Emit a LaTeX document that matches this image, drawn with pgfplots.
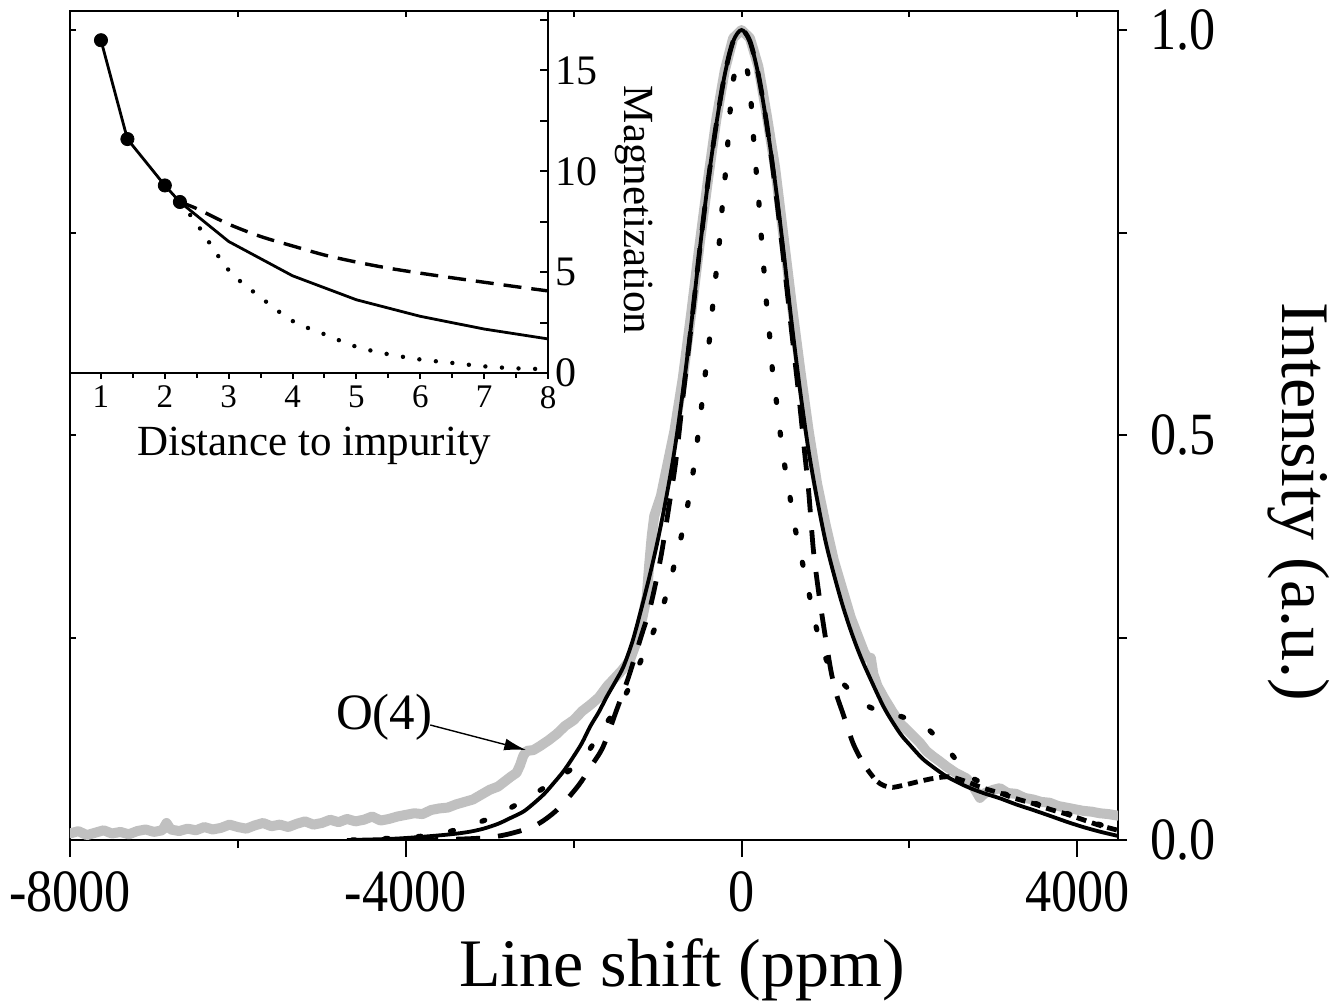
\documentclass[border=0pt]{standalone}
\usepackage{pgfplots}
\pgfplotsset{compat=1.18}
\usepackage{fontspec}
\setmainfont{Liberation Serif}
\newfontfamily\tickfont[FakeStretch=0.87]{Liberation Serif}
\usetikzlibrary{arrows.meta}
\definecolor{lg}{RGB}{192,192,192}
\pgfplotsset{
  base/.style={scale only axis, /pgf/number format/assume math mode=true,
    axis line style={line width=1.2pt}, tick style={line width=1pt, black}},
  mainbox/.style={base, at={(0,0)}, anchor=south west, width=524pt, height=414.5pt,
    xmin=-8000, xmax=4485, ymin=0, ymax=1.0235},
  insetbox/.style={base, at={(0,233.5pt)}, anchor=south west, width=239pt, height=181pt,
    xmin=0.515, xmax=8, ymin=0, ymax=17.95},
}
\begin{document}
\begin{tikzpicture}
\path[use as bounding box] (-35pt,-80.5pt) rectangle (634pt,420pt);

% ---------------- main axis with data ----------------
\begin{axis}[mainbox,
  xtick={-8000,-4000,0,4000}, minor xtick={-6000,-2000,2000}, xtick pos=left,
  ytick=\empty,
  tick align=outside, major tick length=8.5pt, minor tick length=4pt,
  xticklabel style={font=\tickfont\fontsize{30}{34}\selectfont, yshift=-4pt, /pgf/number format/1000 sep={}},
  xlabel={Line shift (ppm)},
  every axis x label/.style={at={(axis description cs:0.584,-0.156)}, anchor=center, font=\fontsize{34}{40}\selectfont},
]
% experimental data (grey)
\addplot[lg, line width=5pt, line join=round, line cap=round] coordinates {
(-8000,0.008) (-7900,0.011) (-7800,0.006) (-7700,0.009) (-7600,0.012) (-7500,0.008)
(-7400,0.010) (-7300,0.007) (-7200,0.011) (-7100,0.013) (-7000,0.010) (-6900,0.012)
(-6850,0.021) (-6800,0.013) (-6700,0.011) (-6600,0.014) (-6500,0.012) (-6400,0.016)
(-6300,0.013) (-6200,0.015) (-6100,0.019) (-6000,0.016) (-5900,0.014) (-5800,0.018)
(-5700,0.021) (-5600,0.017) (-5500,0.019) (-5400,0.016) (-5300,0.020) (-5200,0.023)
(-5100,0.019) (-5000,0.021) (-4900,0.025) (-4800,0.022) (-4700,0.026) (-4600,0.023)
(-4500,0.025) (-4400,0.029) (-4300,0.024) (-4200,0.026) (-4100,0.029) (-4000,0.031)
(-3900,0.033) (-3800,0.032) (-3700,0.037) (-3600,0.039) (-3500,0.040) (-3400,0.044)
(-3300,0.047) (-3200,0.050) (-3100,0.056) (-3000,0.062) (-2900,0.066) (-2800,0.074)
(-2750,0.078) (-2680,0.083) (-2640,0.092) (-2600,0.104) (-2560,0.110) (-2480,0.111)
(-2400,0.116) (-2300,0.123) (-2200,0.131) (-2100,0.141) (-2000,0.148) (-1900,0.159)
(-1800,0.167) (-1700,0.176) (-1600,0.190) (-1500,0.201) (-1420,0.210) (-1330,0.222)
(-1250,0.245) (-1180,0.275) (-1130,0.300) (-1100,0.340) (-1070,0.375) (-1040,0.400)
(-960,0.425) (-880,0.465) (-800,0.505) (-700,0.570) (-600,0.650) (-500,0.735)
(-400,0.815) (-300,0.890) (-200,0.950) (-100,0.990) (0,1.000) (100,0.990)
(200,0.955) (300,0.895) (400,0.830) (500,0.745) (600,0.660) (700,0.580)
(800,0.505) (900,0.440) (1000,0.390) (1100,0.345) (1200,0.310) (1300,0.275)
(1400,0.248) (1460,0.232) (1500,0.225) (1540,0.225) (1570,0.205) (1620,0.190)
(1700,0.175) (1800,0.158) (1900,0.143) (2000,0.133) (2125,0.120) (2200,0.110)
(2283,0.103) (2350,0.098) (2450,0.090) (2550,0.083) (2680,0.076) (2760,0.066)
(2840,0.052) (2900,0.058) (3000,0.062) (3077,0.064) (3170,0.058) (3270,0.057)
(3370,0.052) (3474,0.050) (3570,0.047) (3671,0.046) (3770,0.042) (3871,0.040)
(3970,0.038) (4070,0.036) (4170,0.035) (4269,0.033) (4370,0.032) (4485,0.030)};
% solid simulation
\addplot[black, line width=1.9pt, smooth] coordinates {
(-4700,0.000) (-4300,0.001) (-4070,0.002) (-3800,0.004) (-3470,0.007) (-3250,0.010)
(-3074,0.014) (-2900,0.020) (-2756,0.027) (-2600,0.035) (-2478,0.045) (-2350,0.057)
(-2240,0.070) (-2120,0.085) (-2002,0.103) (-1900,0.120) (-1804,0.140) (-1700,0.158)
(-1605,0.177) (-1500,0.196) (-1407,0.214) (-1300,0.245) (-1200,0.283) (-1100,0.324)
(-1000,0.369) (-900,0.421) (-800,0.480) (-700,0.553) (-600,0.636) (-500,0.727)
(-400,0.812) (-300,0.884) (-200,0.945) (-100,0.986) (0,1.000) (100,0.986)
(200,0.945) (300,0.884) (400,0.812) (500,0.727) (600,0.636) (700,0.553)
(800,0.480) (900,0.421) (1000,0.369) (1100,0.328) (1200,0.291) (1300,0.259)
(1400,0.231) (1500,0.207) (1700,0.163) (1886,0.132) (2000,0.118) (2150,0.101)
(2283,0.090) (2450,0.078) (2680,0.066) (2880,0.058) (3077,0.0515) (3270,0.044)
(3474,0.037) (3670,0.030) (3871,0.0226) (4070,0.016) (4269,0.0103) (4485,0.005)};
% dashed simulation
\addplot[black, line width=2.4pt, smooth, dash pattern=on 12pt off 9pt] coordinates {
(-3900,0.000) (-3400,0.001) (-3020,0.003) (-2750,0.008) (-2455,0.018) (-2200,0.037)
(-1945,0.067) (-1800,0.090) (-1650,0.115) (-1490,0.160) (-1350,0.200) (-1200,0.250)
(-1082,0.290) (-960,0.350) (-860,0.415) (-780,0.470) (-700,0.545) (-600,0.634)
(-500,0.727) (-400,0.812) (-300,0.884) (-200,0.945) (-100,0.986) (0,1.000)
(100,0.986) (200,0.945) (300,0.884) (390,0.815) (465,0.750) (530,0.690)
(590,0.634) (680,0.551) (750,0.480) (800,0.430) (856,0.358) (920,0.305)
(980,0.263) (1063,0.210) (1130,0.180) (1195,0.160) (1260,0.140) (1326,0.120)
(1400,0.104) (1500,0.087)};
\addplot[black, line width=2.4pt, smooth, dash pattern=on 5pt off 3pt] coordinates {
(1500,0.087) (1607,0.073) (1700,0.067) (1800,0.065) (1945,0.068) (2104,0.072)
(2283,0.076) (2481,0.078) (2680,0.072) (2880,0.064) (3077,0.058) (3270,0.051)
(3474,0.045) (3671,0.038) (3871,0.032) (4070,0.025) (4269,0.018) (4485,0.012)};
% dotted simulation
\addplot[black, line width=2.6pt, smooth, line cap=round, dash pattern=on 1.5pt off 15pt] coordinates {
(-4640,0.000) (-4200,0.002) (-3870,0.004) (-3500,0.010) (-3143,0.021) (-2800,0.037)
(-2500,0.055) (-2300,0.068) (-2048,0.086) (-1900,0.100) (-1789,0.115) (-1612,0.144)
(-1452,0.167) (-1330,0.190) (-1230,0.214) (-1100,0.245) (-1000,0.270) (-903,0.300)
(-785,0.346) (-700,0.383) (-630,0.420) (-570,0.459) (-518,0.500) (-470,0.541)
(-427,0.580) (-379,0.621) (-340,0.663) (-299,0.704) (-260,0.743) (-228,0.784)
(-192,0.823) (-161,0.864) (-132,0.905) (-95,0.940) (-50,0.957) (0,0.962)
(50,0.957) (85,0.940) (118,0.905) (145,0.864) (177,0.823) (209,0.784)
(237,0.743) (265,0.706) (297,0.663) (336,0.621) (368,0.580) (416,0.541)
(464,0.500) (519,0.459) (583,0.420) (642,0.383) (718,0.346) (813,0.300)
(896,0.260) (1047,0.214) (1278,0.186) (1528,0.164) (1885,0.153) (2100,0.145)
(2243,0.135) (2400,0.118) (2541,0.101) (2700,0.080) (2836,0.072) (3077,0.059)
(3474,0.046) (3871,0.033) (4269,0.019) (4485,0.013)};
\node[font=\fontsize{25.5}{30}\selectfont] at (axis cs:-4257,0.152) {O(4)};
\draw[-{Latex[length=11pt,width=6pt]}, line width=0.7pt] (axis cs:-3709,0.142) -- (axis cs:-2565,0.111);
\end{axis}

% ---------------- right y ticks & label ----------------
\begin{axis}[mainbox, axis line style={draw=none},
  xtick=\empty, ytick={0,0.5,1}, minor ytick={0.25,0.75},
  ytick pos=right, yticklabel pos=right, tick align=outside,
  major tick length=4.5pt, minor tick length=4.5pt,
  yticklabel style={font=\tickfont\fontsize{30}{34}\selectfont, xshift=8pt, /pgf/number format/.cd, fixed, fixed zerofill, precision=1},
  ylabel={Intensity (a.u.)},
  every axis y label/.style={at={(axis description cs:1.172,0.408)}, anchor=center, rotate=-90, inner sep=0pt, font=\fontsize{34}{40}\selectfont},
]
\end{axis}

% ---------------- top and left inner ticks ----------------
\begin{axis}[mainbox, axis line style={draw=none},
  xtick={-8000,-6000,-4000,-2000,0,2000,4000}, xtick pos=right,
  ytick={0,0.25,0.5,0.75,1}, ytick pos=left,
  xticklabels={}, yticklabels={},
  tick align=inside, major tick length=3pt,
]
\end{axis}

% ---------------- inset ----------------
\begin{axis}[insetbox,
  xtick={1,2,3,4,5,6,7,8}, minor xtick={1.5,2.5,3.5,4.5,5.5,6.5,7.5}, xtick pos=left,
  ytick=\empty, tick align=outside, major tick length=3pt, minor tick length=2.5pt,
  xticklabel style={font=\fontsize{16.5}{20}\selectfont},
  xlabel={Distance to impurity},
  every axis x label/.style={at={(axis description cs:0.51,-0.2017)}, anchor=center, font=\fontsize{21.5}{26}\selectfont},
]
\addplot[black, line width=1.4pt] coordinates {
(1,16.5) (1.414,11.6) (2,9.3) (2.236,8.48) (3,6.52) (4,4.82) (5,3.63) (6,2.81) (7,2.18) (8,1.69)};
\addplot[black, line width=1.7pt, smooth, dash pattern=on 9pt off 5pt] coordinates {
(2.236,8.48) (2.5,8.15) (3,7.38) (3.5,6.77) (4,6.3) (4.5,5.85) (5,5.5) (5.5,5.2) (6,4.95) (6.5,4.72) (7,4.5) (7.5,4.28) (8,4.07)};
\addplot[black, line width=2.2pt, smooth, line cap=round, dash pattern=on 0pt off 8.3pt] coordinates {
(2.236,8.48) (2.5,7.4) (3,5.1) (3.5,3.75) (4,2.58) (4.5,1.92) (5,1.3) (5.5,0.93) (6,0.67) (6.5,0.5) (7,0.33) (7.5,0.23) (8,0.19)};
\addplot[black, only marks, mark=*, mark size=3.3pt] coordinates {
(1,16.5) (1.414,11.6) (2,9.3) (2.236,8.48)};
\end{axis}

\begin{axis}[insetbox, axis line style={draw=none},
  xtick=\empty, ytick={0,5,10,15}, minor ytick={2.5,7.5,12.5,17.5},
  ytick pos=right, yticklabel pos=right, tick align=inside,
  major tick length=4pt, minor tick length=4pt,
  yticklabel style={font=\fontsize{21}{25}\selectfont},
  ylabel={Magnetization},
  every axis y label/.style={at={(axis description cs:1.18,0.45)}, anchor=center, rotate=-90, font=\fontsize{21.5}{26}\selectfont},
]
\end{axis}
\end{tikzpicture}
\end{document}
